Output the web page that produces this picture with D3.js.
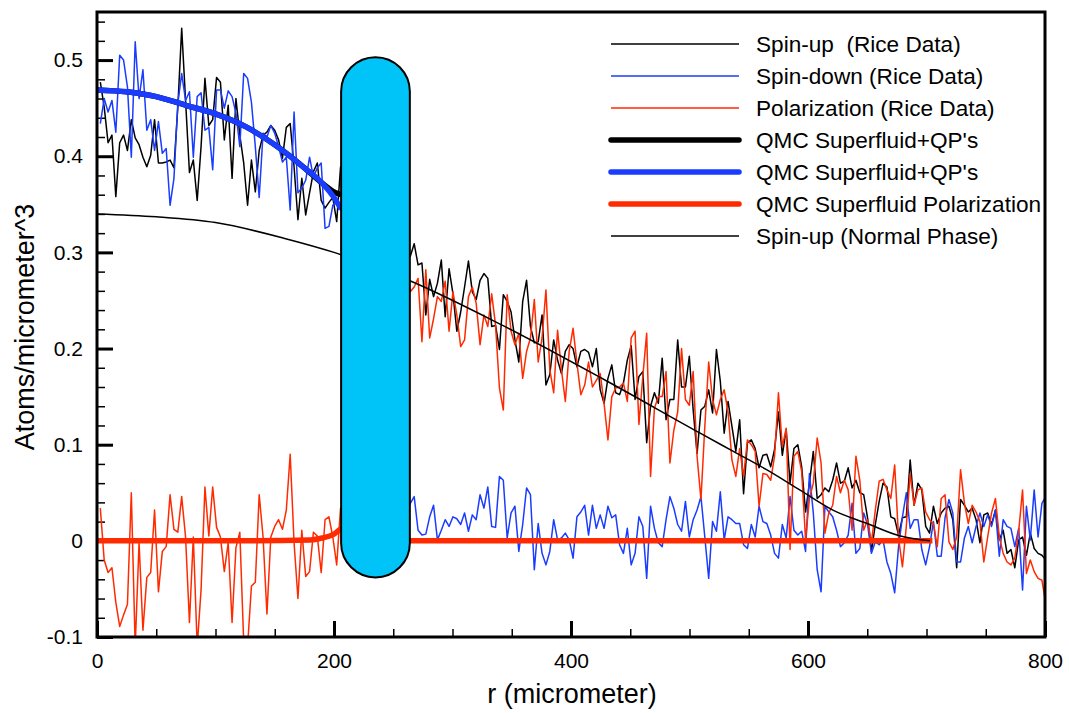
<!DOCTYPE html>
<html>
<head>
<meta charset="utf-8">
<script src="https://cdn.jsdelivr.net/npm/d3@7"></script>
<style>
  body { margin: 0; background: #fff; }
  text { font-family: "Liberation Sans", Arial, Helvetica, sans-serif; }
</style>
</head>
<body>
<svg id="chart"></svg>
<script>
// Rice data is sampled on a regular r grid (micrometer)
const rStart = 2.8;
const rStep = 3.27;

const spinUpRice = [
  0.477, 0.451, 0.414, 0.422, 0.358, 0.414, 0.422, 0.406, 0.438, 0.419,
  0.412, 0.399, 0.389, 0.401, 0.438, 0.393, 0.393, 0.394, 0.396, 0.388,
  0.451, 0.533, 0.458, 0.383, 0.396, 0.354, 0.410, 0.481, 0.432, 0.438,
  0.482, 0.477, 0.417, 0.453, 0.377, 0.460, 0.422, 0.393, 0.349, 0.396,
  0.363, 0.406, 0.422, 0.425, 0.432, 0.427, 0.417, 0.398, 0.430, 0.434,
  0.389, 0.334, 0.377, 0.339, 0.362, 0.384, 0.393, 0.354, 0.346, 0.352,
  0.357, 0.332, 0.389,
  0.35, 0.37, 0.33, 0.36, 0.34, 0.35, 0.31, 0.33, 0.34, 0.30,
  0.32, 0.31, 0.29, 0.33, 0.30, 0.28, 0.31,
  0.296, 0.309, 0.287, 0.289, 0.235, 0.272, 0.254, 0.268, 0.292, 0.233,
  0.283, 0.257, 0.218, 0.238, 0.264, 0.291, 0.259, 0.251, 0.271, 0.278,
  0.273, 0.223, 0.224, 0.199, 0.256, 0.249, 0.238, 0.209, 0.186, 0.249,
  0.271, 0.223, 0.206, 0.207, 0.235, 0.162, 0.173, 0.209, 0.188, 0.174,
  0.197, 0.204, 0.200, 0.181, 0.197, 0.199, 0.196, 0.181, 0.200, 0.157,
  0.143, 0.169, 0.183, 0.154, 0.152, 0.164, 0.188, 0.203, 0.147, 0.171,
  0.176, 0.102, 0.140, 0.154, 0.143, 0.190, 0.126, 0.147, 0.147, 0.209,
  0.160, 0.160, 0.192, 0.136, 0.091, 0.136, 0.140, 0.157, 0.133, 0.199,
  0.166, 0.112,
  0.145, 0.119, 0.093, 0.126, 0.049, 0.102, 0.105, 0.096, 0.076, 0.089,
  0.090, 0.077, 0.095, 0.134, 0.089, 0.116, 0.060, 0.096, 0.100, 0.077,
  0.030, 0.060, 0.093, 0.044, 0.048, 0.055, 0.051, 0.063, 0.081, 0.060,
  0.062, 0.076, 0.055, 0.063, 0.050, 0.048, 0.024, -0.011, 0.017, 0.041,
  0.060, 0.056, 0.025, 0.023, 0.006, 0.024, 0.025, 0.084, 0.037, 0.060,
  0.053, 0.015, 0.008, 0.036, 0.018, 0.029, 0.034, 0.036, 0.022, -0.028,
  0.043, 0.037, 0.030, 0.034, 0.022, -0.002, 0.027, 0.029, 0.017, 0.032,
  0.001, 0.011, -0.013, -0.009, -0.028, 0.001, 0.004, -0.015, 0.008, -0.008,
  -0.013, -0.015, -0.020
];

const spinDownRice = [
  0.434, 0.460, 0.446, 0.458, 0.425, 0.505, 0.500, 0.472, 0.399, 0.519,
  0.460, 0.490, 0.427, 0.438, 0.406, 0.436, 0.403, 0.408, 0.349, 0.377,
  0.455, 0.486, 0.458, 0.467, 0.399, 0.462, 0.466, 0.427, 0.430, 0.386,
  0.469, 0.469, 0.450, 0.468, 0.462, 0.445, 0.410, 0.486, 0.481, 0.456,
  0.410, 0.357, 0.424, 0.420, 0.432, 0.424, 0.410, 0.394, 0.399, 0.344,
  0.446, 0.362, 0.367, 0.375, 0.399, 0.378, 0.388, 0.393, 0.325, 0.327,
  0.349, 0.354, 0.344,
  0.35, 0.31, 0.30, 0.24, 0.17, 0.10, 0.06, 0.04, 0.02, 0.05,
  0.01, 0.03, 0.04, 0.00, 0.02, 0.05, 0.03,
  0.039, 0.046, 0.011, 0.006, 0.007, 0.025, 0.037, 0.001, 0.011, 0.022,
  0.015, 0.025, 0.023, 0.017, 0.029, 0.010, 0.027, 0.022, 0.048, 0.034,
  0.056, 0.015, 0.014, 0.067, 0.063, 0.003, 0.029, 0.036, -0.011, 0.017,
  0.055, 0.048, -0.030, 0.018, -0.013, -0.025, -0.011, 0.022, 0.001, 0.003,
  0.008, 0.001, -0.018, 0.025, 0.030, 0.037, 0.006, 0.037, 0.013, 0.027,
  0.013, 0.036, 0.024, 0.027, -0.004, -0.013, 0.013, -0.025, -0.013, 0.025,
  0.015, -0.039, 0.036, 0.013, -0.002, -0.006, 0.022, 0.046, 0.034, 0.017,
  0.010, 0.041, 0.004, 0.022, 0.032, 0.046, 0.004, -0.039, 0.020, 0.010,
  0.051, 0.001,
  0.025, 0.022, 0.018, 0.018, -0.004, -0.008, 0.017, 0.004, 0.036, 0.020,
  0.018, 0.006, -0.013, -0.018, 0.017, 0.003, 0.046, 0.011, 0.006, 0.010,
  -0.011, 0.070, 0.029, -0.030, -0.053, 0.036, 0.030, 0.025, 0.011, -0.006,
  -0.002, 0.006, 0.039, -0.013, -0.008, 0.029, 0.017, -0.013, -0.001, -0.004,
  0.001, -0.022, -0.034, -0.054, -0.006, 0.025, 0.050, 0.013, 0.022, 0.022,
  -0.009, -0.025, -0.006, 0.020, -0.016, -0.016, 0.024, 0.043, 0.029, -0.022,
  -0.022, 0.003, 0.015, -0.002, 0.015, 0.029, 0.015, 0.027, 0.015, 0.032,
  -0.016, 0.022, 0.015, 0.013, -0.006, 0.013, -0.051, 0.036, 0.001, 0.053,
  0.004, 0.039, 0.046
];

const polarizationRice = [
  0.034, -0.020, -0.033, -0.028, -0.064, -0.089, -0.077, -0.066, 0.050, -0.110,
  -0.002, -0.093, -0.038, -0.033, 0.032, -0.053, -0.011, -0.006, 0.048, 0.012,
  0.009, 0.046, 0.004, -0.085, 0.004, -0.110, -0.051, 0.056, 0.005, 0.056,
  0.014, 0.004, -0.032, -0.002, -0.085, -0.007, 0.009, -0.105, -0.110, -0.047,
  -0.043, 0.048, 0.004, -0.076, 0.004, 0.015, 0.022, 0.012, 0.032, 0.090,
  -0.002, -0.060, 0.011, -0.037, -0.032, 0.009, 0.005, -0.033, 0.022, 0.025,
  0.004, -0.025, 0.034,
  0.00, 0.06, 0.03, 0.12, 0.17, 0.25, 0.25, 0.29, 0.32, 0.25,
  0.31, 0.28, 0.25, 0.33, 0.28, 0.23, 0.28,
  0.259, 0.264, 0.273, 0.207, 0.282, 0.211, 0.231, 0.254, 0.249, 0.270,
  0.218, 0.259, 0.235, 0.202, 0.209, 0.254, 0.264, 0.247, 0.204, 0.235,
  0.223, 0.257, 0.224, 0.159, 0.136, 0.256, 0.218, 0.204, 0.216, 0.169,
  0.197, 0.211, 0.251, 0.186, 0.211, 0.261, 0.178, 0.154, 0.219, 0.178,
  0.145, 0.197, 0.221, 0.185, 0.152, 0.162, 0.186, 0.160, 0.167, 0.174,
  0.143, 0.105, 0.150, 0.159, 0.160, 0.164, 0.145, 0.211, 0.218, 0.121,
  0.171, 0.216, 0.067, 0.138, 0.150, 0.150, 0.176, 0.081, 0.115, 0.134,
  0.200, 0.147, 0.141, 0.176, 0.088, 0.043, 0.119, 0.186, 0.147, 0.131,
  0.147, 0.157,
  0.134, 0.084, 0.067, 0.096, 0.067, 0.105, 0.100, 0.093, 0.036, 0.070,
  0.069, 0.063, 0.088, 0.154, 0.098, 0.117, -0.009, 0.088, 0.093, 0.072,
  0.001, 0.044, 0.060, 0.107, 0.081, 0.008, 0.029, 0.037, 0.067, 0.050,
  0.063, 0.053, 0.011, 0.088, 0.063, 0.011, 0.022, -0.002, 0.032, 0.062,
  0.064, 0.053, 0.044, 0.079, 0.003, -0.027, 0.015, 0.070, 0.037, 0.053,
  0.055, 0.030, 0.022, 0.018, -0.006, 0.044, 0.048, -0.001, -0.009, 0.004,
  0.074, 0.039, 0.018, 0.037, 0.030, 0.020, -0.022, 0.004, 0.029, 0.044,
  0.004, -0.013, -0.022, -0.025, -0.018, 0.010, 0.053, -0.034, -0.020, -0.032,
  -0.039, -0.041, -0.065
];

// QMC superfluid core (r < ~206)
const qmcR = [0, 25, 50, 75, 100, 125, 150, 175, 190, 200, 206];
const qmcSpinUp = [0.469, 0.467, 0.462, 0.453, 0.444, 0.431, 0.412, 0.388, 0.372, 0.363, 0.360];
const qmcSpinDown = [0.469, 0.467, 0.462, 0.453, 0.444, 0.431, 0.412, 0.388, 0.372, 0.357, 0.345];

const qmcPolR = [0, 100, 180, 190, 200, 206, 264, 400, 600, 705];
const qmcPol = [0, 0, 0.001, 0.003, 0.007, 0.012, 0, 0, 0, 0];

// normal phase spin-up profile
const normalR = [0, 50, 100, 160, 200, 265, 344, 429, 509, 537, 565, 593, 621, 650, 678, 703];
const normalUp = [0.340, 0.337, 0.331, 0.314, 0.300, 0.270, 0.223, 0.167, 0.112, 0.093, 0.074, 0.053, 0.032, 0.018, 0.005, 0.000];

// the cyan capsule, in data units
const capsule = { r0: 206, r1: 264, top: 0.503, bottom: -0.038 };

const xTicks = [0, 200, 400, 600, 800];
const xTickLabels = ['0', '200', '400', '600', '800'];
const yTicks = [-0.1, 0, 0.1, 0.2, 0.3, 0.4, 0.5];
const yTickLabels = ['-0.1', '0', '0.1', '0.2', '0.3', '0.4', '0.5'];

const legendLabels = [
  'Spin-up  (Rice Data)',
  'Spin-down (Rice Data)',
  'Polarization (Rice Data)',
  "QMC Superfluid+QP's",
  "QMC Superfluid+QP's",
  'QMC Superfluid Polarization',
  'Spin-up (Normal Phase)'
];

const black = '#000000';
const blue = '#1a3cff';
const red = '#ff2a00';

const svgWidth = 1069;
const svgHeight = 713;
const plotLeft = 97, plotRight = 1045, plotTop = 12, plotBottom = 637;

const svg = d3.select('#chart').attr('width', svgWidth).attr('height', svgHeight);

const xScale = d3.scaleLinear().domain([0, 800]).range([plotLeft, plotRight]);
const yScale = d3.scaleLinear().domain([-0.1, 0.55]).range([plotBottom, plotTop]);

// axes first so the curves sit on top of the inward ticks
const xMinor = d3.range(0, 801, 50).filter((d) => d % 200 !== 0);
const yMinor = d3.range(-10, 55, 2).map((d) => d / 100).filter((d) => Math.round(d * 100) % 10 !== 0);

const xAxisGroup = svg.append('g').attr('transform', `translate(0, ${plotBottom})`);
xAxisGroup.call(d3.axisBottom(xScale).tickValues(xMinor).tickSizeInner(-8).tickSizeOuter(0).tickFormat(''));
xAxisGroup.selectAll('line').attr('stroke-width', 1.5);
const xMajor = svg.append('g').attr('transform', `translate(0, ${plotBottom})`);
xMajor.call(d3.axisBottom(xScale).tickValues(xTicks).tickSizeInner(-16).tickSizeOuter(0).tickPadding(16)
  .tickFormat((d, i) => xTickLabels[i]));
xMajor.selectAll('line').attr('stroke-width', 3);

const yAxisGroup = svg.append('g').attr('transform', `translate(${plotLeft}, 0)`);
yAxisGroup.call(d3.axisLeft(yScale).tickValues(yMinor).tickSizeInner(-8).tickSizeOuter(0).tickFormat(''));
yAxisGroup.selectAll('line').attr('stroke-width', 1.5);
const yMajor = svg.append('g').attr('transform', `translate(${plotLeft}, 0)`);
yMajor.call(d3.axisLeft(yScale).tickValues(yTicks).tickSizeInner(-16).tickSizeOuter(0).tickPadding(14)
  .tickFormat((d, i) => yTickLabels[i]));
yMajor.selectAll('line').attr('stroke-width', 3);

svg.selectAll('.domain').remove();
svg.selectAll('.tick text').attr('font-size', 21).attr('fill', black)
  .attr('font-family', '"Liberation Sans", Arial, Helvetica, sans-serif');

svg.append('defs').append('clipPath').attr('id', 'plot-clip')
  .append('rect').attr('x', plotLeft).attr('y', plotTop)
  .attr('width', plotRight - plotLeft).attr('height', plotBottom - plotTop);

const plot = svg.append('g').attr('clip-path', 'url(#plot-clip)');

const rice = (values) => values.map((v, i) => ({ r: rStart + i * rStep, v: v }));
const pairs = (rs, vs) => rs.map((r, i) => ({ r: r, v: vs[i] }));

const rawLine = d3.line().x((d) => xScale(d.r)).y((d) => yScale(d.v));
const smoothLine = d3.line().curve(d3.curveMonotoneX).x((d) => xScale(d.r)).y((d) => yScale(d.v));

const series = [
  { data: rice(spinUpRice), color: black, w: 1.5, gen: rawLine },
  { data: rice(spinDownRice), color: blue, w: 1.5, gen: rawLine },
  { data: rice(polarizationRice), color: red, w: 1.5, gen: rawLine },
  { data: pairs(qmcR, qmcSpinUp), color: black, w: 5.5, gen: smoothLine },
  { data: pairs(qmcR, qmcSpinDown), color: blue, w: 5.5, gen: smoothLine },
  { data: pairs(qmcPolR, qmcPol), color: red, w: 5.5, gen: smoothLine },
  { data: pairs(normalR, normalUp), color: black, w: 1.5, gen: smoothLine }
];

plot.selectAll('path.series').data(series).enter().append('path')
  .attr('class', 'series')
  .attr('fill', 'none')
  .attr('stroke', (d) => d.color)
  .attr('stroke-width', (d) => d.w)
  .attr('stroke-linejoin', 'round')
  .attr('d', (d) => d.gen(d.data));

// capsule
const capW = xScale(capsule.r1) - xScale(capsule.r0);
plot.append('rect')
  .attr('x', xScale(capsule.r0))
  .attr('y', yScale(capsule.top))
  .attr('width', capW)
  .attr('height', yScale(capsule.bottom) - yScale(capsule.top))
  .attr('rx', capW / 2).attr('ry', capW / 2)
  .attr('fill', '#00c4f7')
  .attr('stroke', black)
  .attr('stroke-width', 2);

// frame
svg.append('rect').attr('x', plotLeft).attr('y', plotTop)
  .attr('width', plotRight - plotLeft).attr('height', plotBottom - plotTop)
  .attr('fill', 'none').attr('stroke', black).attr('stroke-width', 3);

// axis titles
svg.append('text').attr('x', (plotLeft + plotRight) / 2 + 1).attr('y', 703).attr('text-anchor', 'middle')
  .attr('font-size', 27).text('r (micrometer)');
svg.append('text').attr('transform', 'translate(34, 327) rotate(-90)').attr('text-anchor', 'middle')
  .attr('font-size', 27).text('Atoms/micrometer^3');

// legend
const legendStyles = [
  { color: black, w: 1.5 }, { color: blue, w: 1.5 }, { color: red, w: 1.5 },
  { color: black, w: 5.5 }, { color: blue, w: 5.5 }, { color: red, w: 5.5 },
  { color: black, w: 1.5 }
];
const legend = svg.append('g').attr('transform', 'translate(611, 44)');
const rows = legend.selectAll('g').data(legendLabels).enter().append('g')
  .attr('transform', (d, i) => `translate(0, ${i * 32})`);
rows.append('line').attr('x1', 0).attr('x2', 128).attr('y1', 0).attr('y2', 0)
  .attr('stroke', (d, i) => legendStyles[i].color)
  .attr('stroke-width', (d, i) => legendStyles[i].w)
  .attr('stroke-linecap', (d, i) => legendStyles[i].w > 3 ? 'round' : 'butt');
rows.append('text').attr('x', 145).attr('y', 8).attr('font-size', 22.6)
  .style('white-space', 'pre').text((d) => d);
</script>
</body>
</html>
